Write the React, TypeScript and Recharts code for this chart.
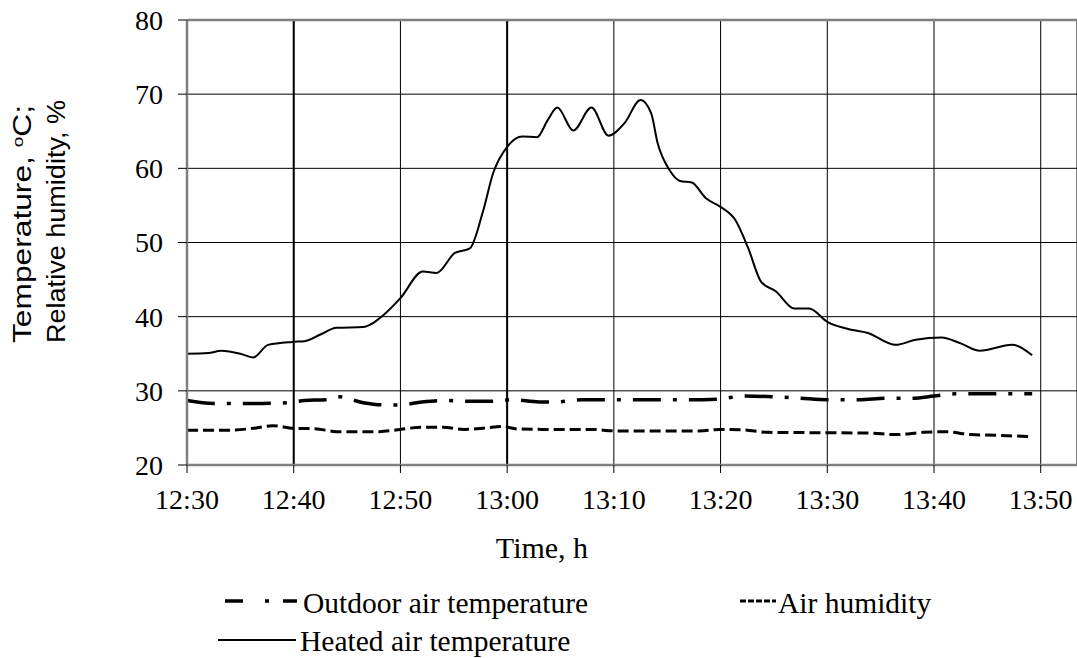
import React from 'react';
import { LineChart, Line, XAxis, YAxis, CartesianGrid, ReferenceLine } from 'recharts';

// minutes after 12:30
const tickMinutes = [0, 10, 20, 30, 40, 50, 60, 70, 80];
const timeLabels = ['12:30', '12:40', '12:50', '13:00', '13:10', '13:20', '13:30', '13:40', '13:50'];
const yTicks = [20, 30, 40, 50, 60, 70, 80];

const heatedTimes = [0, 2, 3.2, 5, 6.2, 7.6, 9.9, 11, 12.5, 14, 16.5, 17.5, 18.4, 20, 22.1, 23.4, 25.1, 26.5, 27.7, 28.7, 30, 31.4, 32.8, 33.8, 34.7, 36.2, 37.9, 39.5, 41, 42.5, 43.5, 44.1, 45.2, 46.2, 47.3, 48.6, 50, 51.4, 52.6, 53.8, 55.2, 56.9, 58.3, 60, 62.4, 63.8, 66.4, 68.3, 70.7, 72.5, 74.3, 77.3, 79.2];
const heatedValues = [35.0, 35.1, 35.4, 35.0, 34.5, 36.2, 36.6, 36.7, 37.6, 38.5, 38.6, 39.2, 40.2, 42.5, 46.1, 45.9, 48.6, 49.2, 54, 59.4, 62.9, 64.3, 64.2, 66.5, 68.2, 65.1, 68.2, 64.4, 66.1, 69.2, 67.4, 63.4, 59.8, 58.3, 58.1, 56.0, 54.8, 53.0, 49.2, 44.7, 43.4, 41.1, 41.1, 39.3, 38.2, 37.8, 36.2, 36.9, 37.2, 36.4, 35.4, 36.2, 34.8];

const outdoorTimes = [0, 2.5, 6, 9.5, 11, 13, 14.2, 16.5, 18.5, 20, 22, 24, 26.5, 28.5, 30.5, 33, 34.5, 37, 42, 47, 50, 52, 55, 57.5, 60, 63, 65.5, 68, 70, 72, 76, 79.2];
const outdoorValues = [28.7, 28.3, 28.3, 28.4, 28.7, 28.8, 29.2, 28.4, 28.1, 28.1, 28.5, 28.7, 28.6, 28.6, 28.8, 28.5, 28.5, 28.8, 28.8, 28.8, 28.9, 29.3, 29.2, 29.0, 28.8, 28.8, 29.0, 29.0, 29.3, 29.6, 29.6, 29.6];

const humidityTimes = [0, 4, 6.5, 8, 10, 12, 14, 18, 20, 22, 24, 26, 28, 29.5, 31, 34, 38, 40, 48, 50, 52, 54.5, 60, 64, 66.4, 69, 71, 73.5, 76, 79.2];
const humidityValues = [24.7, 24.7, 25.0, 25.3, 24.95, 24.9, 24.5, 24.5, 24.8, 25.1, 25.1, 24.8, 25.0, 25.2, 24.85, 24.8, 24.8, 24.6, 24.6, 24.8, 24.75, 24.4, 24.35, 24.3, 24.1, 24.4, 24.5, 24.1, 24.0, 23.8];

const toData = (times: number[], values: number[]) => times.map((t, i) => ({ t, v: values[i] }));
const heatedData = toData(heatedTimes, heatedValues);
const outdoorData = toData(outdoorTimes, outdoorValues);
const humidityData = toData(humidityTimes, humidityValues);

const SERIF = '"Liberation Serif", "Times New Roman", serif';
const SANS = '"Liberation Sans", Arial, sans-serif';
const AXIS_GRAY = '#808080';
const OUTDOOR_DASH = '28 12 4 12';
const HUMIDITY_DASH = '11 5';

const YLabel = () => (
  <g fontFamily={SANS} fontSize={25} fill="#000">
    <text transform="rotate(-90)" x={-343} y={31} textLength={238} lengthAdjust="spacingAndGlyphs">
      Temperature, <tspan baselineShift="super" fontSize={15}>o</tspan>C;
    </text>
    <text transform="rotate(-90)" x={-343} y={65} textLength={243} lengthAdjust="spacingAndGlyphs">
      Relative humidity, %
    </text>
  </g>
);

const XLabel = () => (
  <text x={542} y={558} textAnchor="middle" fontFamily={SERIF} fontSize={30} fill="#000">
    Time, h
  </text>
);

const LegendBlock = () => (
  <svg width={1077} height={80} style={{ position: 'absolute', left: 0, top: 578 }}>
    <g fontFamily={SERIF} fontSize={29.5} fill="#000">
      <line x1={225} y1={23} x2={297} y2={23} stroke="#000" strokeWidth={3.5} strokeDasharray="18 22 4 14 14 30" />
      <text x={303} y={35}>Outdoor air temperature</text>
      <line x1={740} y1={23} x2={776} y2={23} stroke="#000" strokeWidth={3} strokeDasharray="6 2" />
      <text x={778} y={35}>Air humidity</text>
      <line x1={218} y1={62} x2={296} y2={62} stroke="#000" strokeWidth={2} />
      <text x={300} y={73}>Heated air temperature</text>
    </g>
  </svg>
);

export default function App() {
  return (
    <div style={{ position: 'absolute', left: 0, top: 0, width: 1077, height: 658, background: '#fff' }}>
      <LineChart
        width={1077}
        height={658}
        margin={{ top: 20, right: 0, bottom: 0, left: 0 }}
        style={{ fontFamily: SERIF }}
      >
        <CartesianGrid stroke="#000" strokeWidth={1} />
        <XAxis
          type="number"
          dataKey="t"
          domain={[0, 83.4]}
          ticks={tickMinutes}
          tickFormatter={(v: number) => timeLabels[tickMinutes.indexOf(v)]}
          height={193}
          axisLine={{ stroke: AXIS_GRAY, strokeWidth: 2.5 }}
          tickLine={{ stroke: '#000' }}
          tickSize={8}
          tickMargin={16}
          tick={{ fill: '#000', fontSize: 28, fontFamily: SERIF }}
          allowDataOverflow
          label={<XLabel />}
        />
        <YAxis
          type="number"
          domain={[20, 80]}
          ticks={yTicks}
          width={187}
          axisLine={{ stroke: AXIS_GRAY, strokeWidth: 2.5 }}
          tickLine={{ stroke: '#000' }}
          tickSize={9}
          tickMargin={15}
          tick={{ fill: '#000', fontSize: 28, fontFamily: SERIF }}
          label={<YLabel />}
        />
        <ReferenceLine x={10} stroke="#000" strokeWidth={2} />
        <ReferenceLine x={30} stroke="#000" strokeWidth={2} />
        <ReferenceLine y={80} stroke={AXIS_GRAY} strokeWidth={2.5} />
        <Line
          data={humidityData}
          dataKey="v"
          type="monotone"
          stroke="#000"
          strokeWidth={3}
          strokeDasharray={HUMIDITY_DASH}
          dot={false}
          activeDot={false}
          isAnimationActive={false}
        />
        <Line
          data={outdoorData}
          dataKey="v"
          type="monotone"
          stroke="#000"
          strokeWidth={3.5}
          strokeDasharray={OUTDOOR_DASH}
          dot={false}
          activeDot={false}
          isAnimationActive={false}
        />
        <Line
          data={heatedData}
          dataKey="v"
          type="monotone"
          stroke="#000"
          strokeWidth={2}
          dot={false}
          activeDot={false}
          isAnimationActive={false}
        />
      </LineChart>
      <LegendBlock />
    </div>
  );
}
